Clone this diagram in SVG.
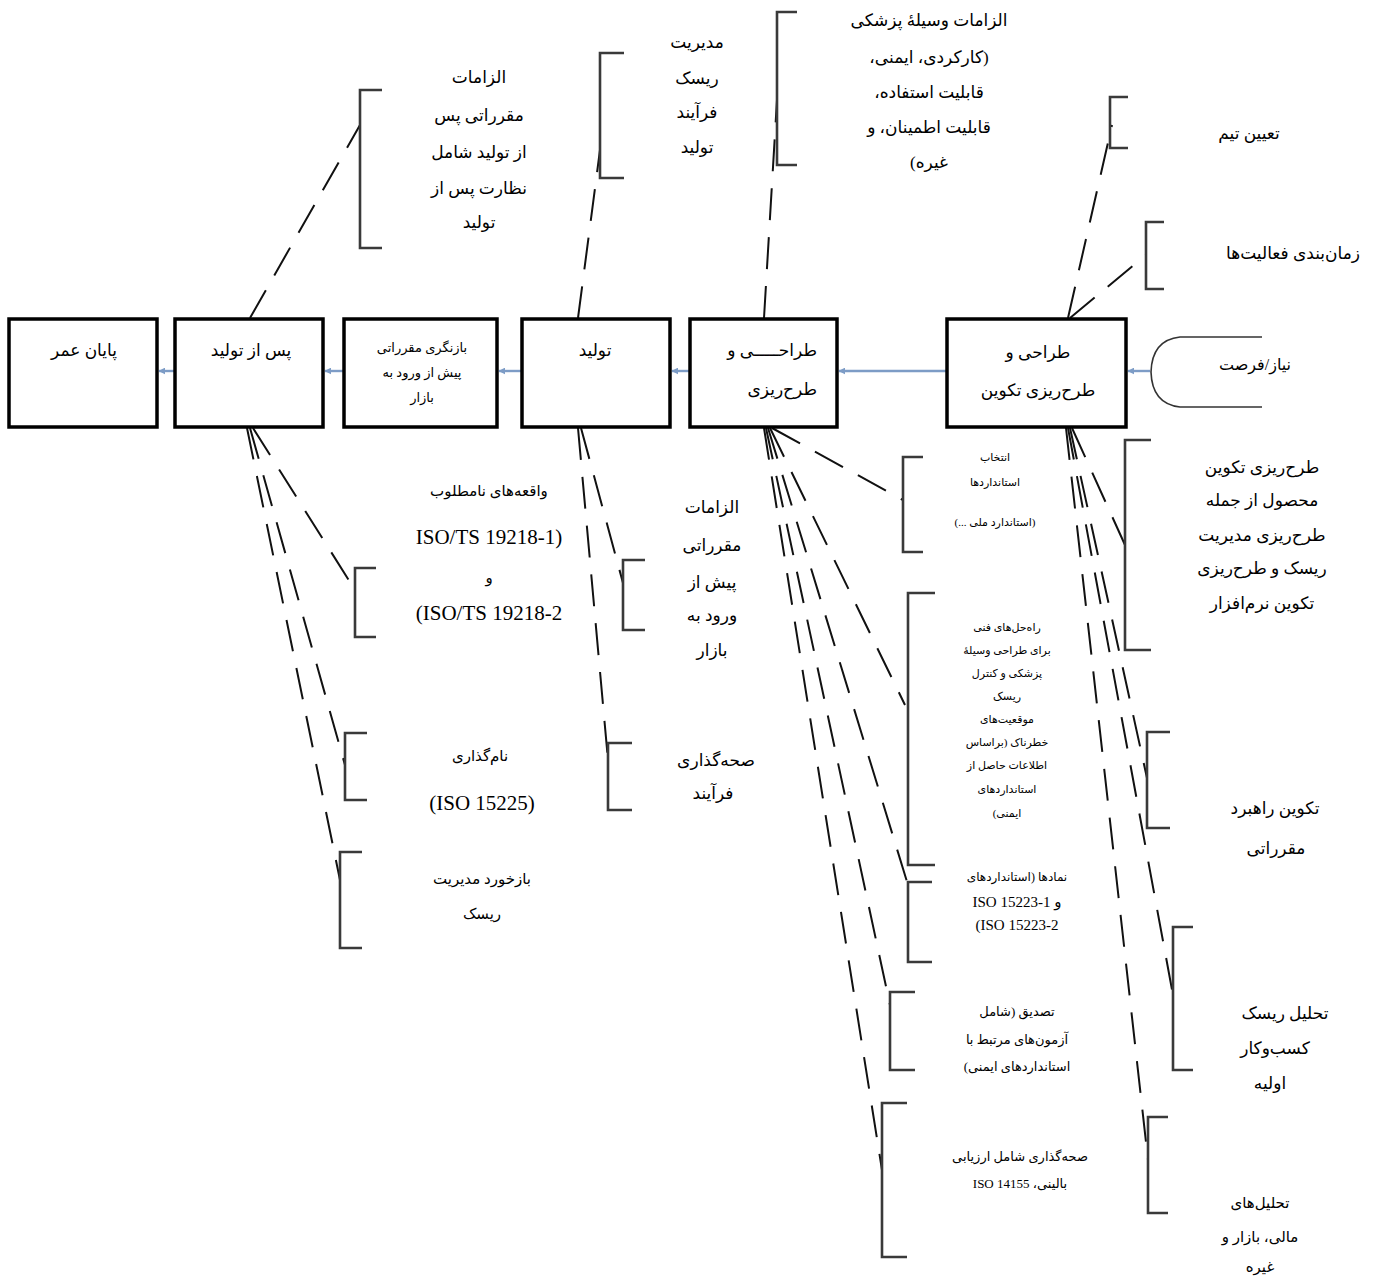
<svg xmlns="http://www.w3.org/2000/svg" width="1375" height="1280" viewBox="0 0 1375 1280">
<defs>
<marker id="ah" viewBox="0 0 10 10" refX="9" refY="5" markerWidth="7" markerHeight="7" orient="auto" markerUnits="userSpaceOnUse">
<path d="M0,0 L10,5 L0,10 z" fill="#7d9cc6"/>
</marker>
<style>
.box{fill:#fff;stroke:#000;stroke-width:3.5}
.br{fill:none;stroke:#3a3a3a;stroke-width:2.6}
.dash{fill:none;stroke:#111;stroke-width:2;stroke-dasharray:32 17}
.flow{fill:none;stroke:#7d9cc6;stroke-width:2.4}
text{font-family:"Liberation Serif","DejaVu Sans",serif;fill:#000;text-anchor:middle;direction:rtl}
.t18{font-size:17px}
.t16{font-size:15px}
.t14{font-size:13px}
.t12{font-size:11px}
.t13{font-size:12px}
.lat{font-size:21px}
.lat13{font-size:15px}
</style>
</defs>
<rect width="1375" height="1280" fill="#fff"/>

<g id="connectors">
<line class="flow" x1="1150" y1="371" x2="1128" y2="371" marker-end="url(#ah)"/>
<line class="flow" x1="947" y1="371" x2="839" y2="371" marker-end="url(#ah)"/>
<line class="flow" x1="690" y1="371" x2="672" y2="371" marker-end="url(#ah)"/>
<line class="flow" x1="522" y1="371" x2="499" y2="371" marker-end="url(#ah)"/>
<line class="flow" x1="344" y1="371" x2="325" y2="371" marker-end="url(#ah)"/>
<line class="flow" x1="175" y1="371" x2="159" y2="371" marker-end="url(#ah)"/>
<line class="dash" x1="250" y1="318" x2="360" y2="125"/>
<line class="dash" x1="578" y1="318" x2="600" y2="150"/>
<line class="dash" x1="764" y1="318" x2="777" y2="100"/>
<line class="dash" x1="1068" y1="318" x2="1112" y2="125"/>
<line class="dash" x1="1070" y1="318" x2="1146" y2="255"/>
<line class="dash" x1="253" y1="428" x2="355" y2="590"/>
<line class="dash" x1="250" y1="428" x2="345" y2="765"/>
<line class="dash" x1="247" y1="428" x2="340" y2="880"/>
<line class="dash" x1="581" y1="428" x2="623" y2="583"/>
<line class="dash" x1="578" y1="428" x2="608" y2="760"/>
<line class="dash" x1="772" y1="428" x2="903" y2="500"/>
<line class="dash" x1="770" y1="428" x2="905" y2="705"/>
<line class="dash" x1="768" y1="428" x2="908" y2="885"/>
<line class="dash" x1="766" y1="428" x2="890" y2="1005"/>
<line class="dash" x1="764" y1="428" x2="882" y2="1170"/>
<line class="dash" x1="1072" y1="428" x2="1125" y2="545"/>
<line class="dash" x1="1070" y1="428" x2="1147" y2="778"/>
<line class="dash" x1="1068" y1="428" x2="1173" y2="995"/>
<line class="dash" x1="1066" y1="428" x2="1148" y2="1160"/>
</g>

<g id="n-end-of-life">
<rect class="box" x="9" y="319" width="148" height="108"/>
<text class="t18" x="84" y="356">پایان عمر</text>
</g>
<g id="n-post-production">
<rect class="box" x="175" y="319" width="148" height="108"/>
<text class="t18" x="251" y="356">پس از تولید</text>
</g>
<g id="n-premarket-review">
<rect class="box" x="344" y="319" width="153" height="108"/>
<text class="t14" x="422" y="352">بازنگری مقرراتی</text>
<text class="t14" x="422" y="377">پیش از ورود به</text>
<text class="t14" x="422" y="402">بازار</text>
</g>
<g id="n-production">
<rect class="box" x="522" y="319" width="148" height="108"/>
<text class="t18" x="595" y="356">تولید</text>
</g>
<g id="n-design">
<rect class="box" x="690" y="319" width="147" height="108"/>
<text class="t18" x="817" y="356" style="text-anchor:start">طراحـــــی و</text>
<text class="t18" x="817" y="395" style="text-anchor:start">طرح‌ریزی</text>
</g>
<g id="n-dev-planning">
<rect class="box" x="947" y="319" width="179" height="108"/>
<text class="t18" x="1038" y="358">طراحی و</text>
<text class="t18" x="1038" y="396">طرح‌ریزی تکوین</text>
</g>
<g id="n-need">
<path d="M1262,337 L1180,337 Q1152,340 1151,372 Q1152,404 1180,407 L1262,407" fill="none" stroke="#333" stroke-width="1.6"/>
<text class="t16" x="1255" y="370" style="font-size:16px">نیاز/فرصت</text>
</g>

<g id="n-postmarket-reqs">
<path class="br" d="M382,90 H360 V248 H382"/>
<text class="t18" x="479" y="83">الزامات</text>
<text class="t18" x="479" y="121">مقرراتی پس</text>
<text class="t18" x="479" y="158">از تولید شامل</text>
<text class="t18" x="479" y="194">نظارت پس از</text>
<text class="t18" x="479" y="228">تولید</text>
</g>
<g id="n-process-risk">
<path class="br" d="M624,53 H600 V178 H624"/>
<text class="t18" x="697" y="48">مدیریت</text>
<text class="t18" x="697" y="84">ریسک</text>
<text class="t18" x="697" y="118">فرآیند</text>
<text class="t18" x="697" y="153">تولید</text>
</g>
<g id="n-device-reqs">
<path class="br" d="M797,12 H777 V165 H797"/>
<text class="t18" x="929" y="26">الزامات وسیلهٔ پزشکی</text>
<text class="t18" x="929" y="63">(کارکردی، ایمنی،</text>
<text class="t18" x="929" y="98">قابلیت استفاده،</text>
<text class="t18" x="929" y="133">قابلیت اطمینان، و</text>
<text class="t18" x="929" y="168">غیره)</text>
</g>
<g id="n-team">
<path class="br" d="M1128,97 H1110 V148 H1128"/>
<text class="t18" x="1249" y="139">تعیین تیم</text>
</g>
<g id="n-schedule">
<path class="br" d="M1164,222 H1146 V289 H1164"/>
<text class="t18" x="1293" y="259">زمان‌بندی فعالیت‌ها</text>
</g>

<g id="n-adverse-events">
<path class="br" d="M376,568 H355 V637 H376"/>
<text class="t16" x="489" y="496">واقعه‌های نامطلوب</text>
<text class="lat" x="489" y="544">(ISO/TS 19218-1</text>
<text class="t16" x="489" y="583">و</text>
<text class="lat" x="489" y="620">ISO/TS 19218-2)</text>
</g>
<g id="n-labeling">
<path class="br" d="M367,733 H345 V800 H367"/>
<text class="t16" x="480" y="761">نام‌گذاری</text>
<text class="lat" x="482" y="810">(ISO 15225)</text>
</g>
<g id="n-risk-feedback">
<path class="br" d="M362,852 H340 V948 H362"/>
<text class="t16" x="482" y="884">بازخورد مدیریت</text>
<text class="t16" x="482" y="919">ریسک</text>
</g>
<g id="n-premarket-reqs">
<path class="br" d="M645,560 H623 V630 H645"/>
<text class="t18" x="712" y="513">الزامات</text>
<text class="t18" x="712" y="551">مقرراتی</text>
<text class="t18" x="712" y="588">پیش از</text>
<text class="t18" x="712" y="621">ورود به</text>
<text class="t18" x="712" y="656">بازار</text>
</g>
<g id="n-process-validation">
<path class="br" d="M632,743 H608 V810 H632"/>
<text class="t18" x="716" y="766">صحه‌گذاری</text>
<text class="t18" x="713" y="799">فرآیند</text>
</g>
<g id="n-standards">
<path class="br" d="M923,457 H903 V552 H923"/>
<text class="t12" x="995" y="461">انتخاب</text>
<text class="t12" x="995" y="486">استانداردها</text>
<text class="t12" x="995" y="526">(استاندارد ملی ...)</text>
</g>
<g id="n-tech-solutions">
<path class="br" d="M935,593 H908 V865 H935"/>
<text class="t12" x="1007" y="631">راه‌حل‌های فنی</text>
<text class="t12" x="1007" y="654">برای طراحی وسیلهٔ</text>
<text class="t12" x="1007" y="677">پزشکی و کنترل</text>
<text class="t12" x="1007" y="700">ریسک</text>
<text class="t12" x="1007" y="723">موقعیت‌های</text>
<text class="t12" x="1007" y="746">خطرناک (براساس</text>
<text class="t12" x="1007" y="769">اطلاعات حاصل از</text>
<text class="t12" x="1007" y="793">استانداردهای</text>
<text class="t12" x="1007" y="817">ایمنی)</text>
</g>
<g id="n-symbols">
<path class="br" d="M932,882 H908 V962 H932"/>
<text class="t13" x="1017" y="881">نمادها (استانداردهای</text>
<text class="lat13" x="1017" y="907">و ISO 15223-1</text>
<text class="lat13" x="1017" y="930">ISO 15223-2)</text>
</g>
<g id="n-verification">
<path class="br" d="M915,992 H890 V1070 H915"/>
<text class="t14" x="1017" y="1016">تصدیق (شامل</text>
<text class="t14" x="1017" y="1044">آزمون‌های مرتبط با</text>
<text class="t14" x="1017" y="1071">استانداردهای ایمنی)</text>
</g>
<g id="n-clinical-validation">
<path class="br" d="M907,1103 H882 V1257 H907"/>
<text class="t14" x="1020" y="1161">صحه‌گذاری شامل ارزیابی</text>
<text class="t14" x="1020" y="1188">بالینی،  ISO 14155</text>
</g>
<g id="n-product-planning">
<path class="br" d="M1151,440 H1125 V650 H1151"/>
<text class="t18" x="1262" y="473">طرح‌ریزی تکوین</text>
<text class="t18" x="1262" y="506">محصول از جمله</text>
<text class="t18" x="1262" y="541">طرح‌ریزی مدیریت</text>
<text class="t18" x="1262" y="574">ریسک و طرح‌ریزی</text>
<text class="t18" x="1262" y="609">تکوین نرم‌افزار</text>
</g>
<g id="n-regulatory-strategy">
<path class="br" d="M1170,732 H1147 V828 H1170"/>
<text class="t18" x="1275" y="814">تکوین راهبرد</text>
<text class="t18" x="1276" y="854">مقرراتی</text>
</g>
<g id="n-business-risk">
<path class="br" d="M1193,927 H1173 V1070 H1193"/>
<text class="t18" x="1285" y="1019">تحلیل ریسک</text>
<text class="t18" x="1275" y="1054">کسب‌وکار</text>
<text class="t18" x="1270" y="1089">اولیه</text>
</g>
<g id="n-financial">
<path class="br" d="M1168,1117 H1148 V1213 H1168"/>
<text class="t16" x="1260" y="1208">تحلیل‌های</text>
<text class="t16" x="1260" y="1242">مالی، بازار و</text>
<text class="t16" x="1260" y="1272">غیره</text>
</g>
</svg>
